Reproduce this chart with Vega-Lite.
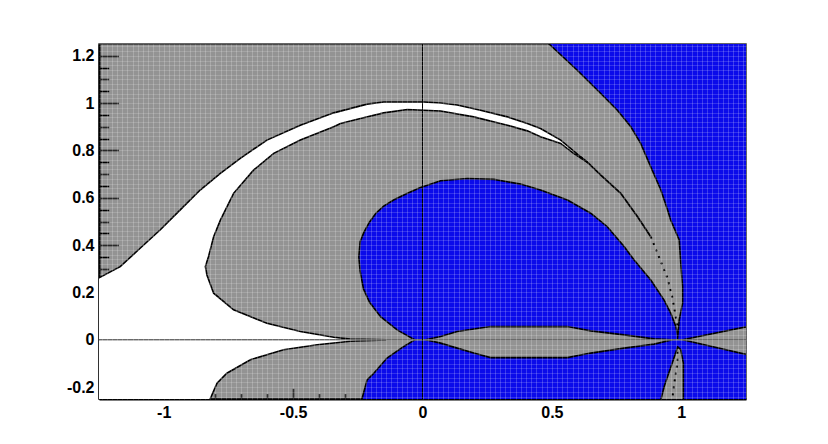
{
  "$schema": "https://vega.github.io/schema/vega-lite/v6.json",
  "width": 647,
  "height": 355,
  "autosize": {"type": "none"},
  "padding": {"left": 99, "top": 44, "right": 82, "bottom": 45},
  "background": "white",
  "config": {
    "view": {"fill": "#939393", "stroke": "#333333", "strokeWidth": 1.5},
    "axis": {
      "grid": false,
      "domainColor": "#000000",
      "domainWidth": 2,
      "tickColor": "#000000",
      "tickWidth": 1.5,
      "zindex": 2,
      "labelFont": "Liberation Sans",
      "labelFontSize": 16,
      "labelFontWeight": "bold",
      "labelColor": "#000000",
      "labelOverlap": false,
      "labelFlush": false,
      "labelBound": false
    }
  },
  "resolve": {"axis": {"x": "independent", "y": "independent"}},
  "datasets": {
    "poly": [
      {"shape": "blue", "i": 0, "x": 0.44, "y": 1.3},
      {"shape": "blue", "i": 1, "x": 1.3, "y": 1.3},
      {"shape": "blue", "i": 2, "x": 1.3, "y": -0.3},
      {"shape": "blue", "i": 3, "x": -0.245, "y": -0.3},
      {"shape": "blue", "i": 4, "x": -0.234, "y": -0.25},
      {"shape": "blue", "i": 5, "x": -0.214, "y": -0.169},
      {"shape": "blue", "i": 6, "x": -0.188, "y": -0.141},
      {"shape": "blue", "i": 7, "x": -0.137, "y": -0.077},
      {"shape": "blue", "i": 8, "x": -0.072, "y": -0.028},
      {"shape": "blue", "i": 9, "x": -0.03, "y": 0},
      {"shape": "blue", "i": 10, "x": -0.098, "y": 0.042},
      {"shape": "blue", "i": 11, "x": -0.162, "y": 0.098},
      {"shape": "blue", "i": 12, "x": -0.205, "y": 0.16},
      {"shape": "blue", "i": 13, "x": -0.228, "y": 0.215},
      {"shape": "blue", "i": 14, "x": -0.241, "y": 0.29},
      {"shape": "blue", "i": 15, "x": -0.246, "y": 0.35},
      {"shape": "blue", "i": 16, "x": -0.241, "y": 0.415},
      {"shape": "blue", "i": 17, "x": -0.226, "y": 0.455},
      {"shape": "blue", "i": 18, "x": -0.205, "y": 0.497},
      {"shape": "blue", "i": 19, "x": -0.18, "y": 0.535},
      {"shape": "blue", "i": 20, "x": -0.15, "y": 0.565},
      {"shape": "blue", "i": 21, "x": -0.11, "y": 0.592},
      {"shape": "blue", "i": 22, "x": -0.06, "y": 0.618},
      {"shape": "blue", "i": 23, "x": -0.01, "y": 0.643},
      {"shape": "blue", "i": 24, "x": 0.07, "y": 0.672},
      {"shape": "blue", "i": 25, "x": 0.173, "y": 0.682},
      {"shape": "blue", "i": 26, "x": 0.276, "y": 0.678},
      {"shape": "blue", "i": 27, "x": 0.379, "y": 0.658},
      {"shape": "blue", "i": 28, "x": 0.456, "y": 0.633},
      {"shape": "blue", "i": 29, "x": 0.56, "y": 0.591},
      {"shape": "blue", "i": 30, "x": 0.65, "y": 0.535},
      {"shape": "blue", "i": 31, "x": 0.714, "y": 0.478},
      {"shape": "blue", "i": 32, "x": 0.779, "y": 0.394},
      {"shape": "blue", "i": 33, "x": 0.817, "y": 0.338},
      {"shape": "blue", "i": 34, "x": 0.882, "y": 0.253},
      {"shape": "blue", "i": 35, "x": 0.933, "y": 0.169},
      {"shape": "blue", "i": 36, "x": 0.959, "y": 0.113},
      {"shape": "blue", "i": 37, "x": 0.979, "y": 0.056},
      {"shape": "blue", "i": 38, "x": 0.986, "y": 0.017},
      {"shape": "blue", "i": 39, "x": 0.985, "y": 0},
      {"shape": "blue", "i": 40, "x": 0.988, "y": 0.035},
      {"shape": "blue", "i": 41, "x": 0.992, "y": 0.084},
      {"shape": "blue", "i": 42, "x": 1.005, "y": 0.155},
      {"shape": "blue", "i": 43, "x": 1.005, "y": 0.225},
      {"shape": "blue", "i": 44, "x": 0.998, "y": 0.324},
      {"shape": "blue", "i": 45, "x": 0.992, "y": 0.422},
      {"shape": "blue", "i": 46, "x": 0.959, "y": 0.506},
      {"shape": "blue", "i": 47, "x": 0.947, "y": 0.549},
      {"shape": "blue", "i": 48, "x": 0.921, "y": 0.633},
      {"shape": "blue", "i": 49, "x": 0.882, "y": 0.731},
      {"shape": "blue", "i": 50, "x": 0.843, "y": 0.83},
      {"shape": "blue", "i": 51, "x": 0.805, "y": 0.9},
      {"shape": "blue", "i": 52, "x": 0.753, "y": 0.97},
      {"shape": "blue", "i": 53, "x": 0.689, "y": 1.041},
      {"shape": "blue", "i": 54, "x": 0.598, "y": 1.139},
      {"shape": "blue", "i": 55, "x": 0.489, "y": 1.25},

      {"shape": "lens", "i": 0, "x": 0.012, "y": 0},
      {"shape": "lens", "i": 1, "x": 0.07, "y": 0.014},
      {"shape": "lens", "i": 2, "x": 0.134, "y": 0.035},
      {"shape": "lens", "i": 3, "x": 0.198, "y": 0.046},
      {"shape": "lens", "i": 4, "x": 0.263, "y": 0.056},
      {"shape": "lens", "i": 5, "x": 0.56, "y": 0.056},
      {"shape": "lens", "i": 6, "x": 0.65, "y": 0.038},
      {"shape": "lens", "i": 7, "x": 0.779, "y": 0.021},
      {"shape": "lens", "i": 8, "x": 0.895, "y": 0.004},
      {"shape": "lens", "i": 9, "x": 0.966, "y": 0},
      {"shape": "lens", "i": 10, "x": 0.895, "y": -0.018},
      {"shape": "lens", "i": 11, "x": 0.779, "y": -0.035},
      {"shape": "lens", "i": 12, "x": 0.65, "y": -0.056},
      {"shape": "lens", "i": 13, "x": 0.56, "y": -0.075},
      {"shape": "lens", "i": 14, "x": 0.263, "y": -0.075},
      {"shape": "lens", "i": 15, "x": 0.198, "y": -0.056},
      {"shape": "lens", "i": 16, "x": 0.134, "y": -0.035},
      {"shape": "lens", "i": 17, "x": 0.07, "y": -0.014},

      {"shape": "wedge", "i": 0, "x": 1.005, "y": 0},
      {"shape": "wedge", "i": 1, "x": 1.3, "y": 0.066},
      {"shape": "wedge", "i": 2, "x": 1.3, "y": -0.074},

      {"shape": "strip", "i": 0, "x": 0.986, "y": -0.03},
      {"shape": "strip", "i": 1, "x": 0.998, "y": -0.042},
      {"shape": "strip", "i": 2, "x": 1.008, "y": -0.098},
      {"shape": "strip", "i": 3, "x": 1.008, "y": -0.3},
      {"shape": "strip", "i": 4, "x": 0.91, "y": -0.3},
      {"shape": "strip", "i": 5, "x": 0.921, "y": -0.253},
      {"shape": "strip", "i": 6, "x": 0.934, "y": -0.197},
      {"shape": "strip", "i": 7, "x": 0.947, "y": -0.155},
      {"shape": "strip", "i": 8, "x": 0.966, "y": -0.095},
      {"shape": "strip", "i": 9, "x": 0.979, "y": -0.052},

      {"shape": "white", "i": 0, "x": -1.3, "y": 0.23},
      {"shape": "white", "i": 1, "x": -1.25, "y": 0.262},
      {"shape": "white", "i": 2, "x": -1.168, "y": 0.309},
      {"shape": "white", "i": 3, "x": -1.091, "y": 0.387},
      {"shape": "white", "i": 4, "x": -1.014, "y": 0.464},
      {"shape": "white", "i": 5, "x": -0.936, "y": 0.549},
      {"shape": "white", "i": 6, "x": -0.859, "y": 0.633},
      {"shape": "white", "i": 7, "x": -0.781, "y": 0.703},
      {"shape": "white", "i": 8, "x": -0.704, "y": 0.767},
      {"shape": "white", "i": 9, "x": -0.601, "y": 0.844},
      {"shape": "white", "i": 10, "x": -0.472, "y": 0.907},
      {"shape": "white", "i": 11, "x": -0.343, "y": 0.959},
      {"shape": "white", "i": 12, "x": -0.214, "y": 0.996},
      {"shape": "white", "i": 13, "x": -0.15, "y": 1.005},
      {"shape": "white", "i": 14, "x": 0.005, "y": 1.005},
      {"shape": "white", "i": 15, "x": 0.07, "y": 1.001},
      {"shape": "white", "i": 16, "x": 0.134, "y": 0.992},
      {"shape": "white", "i": 17, "x": 0.224, "y": 0.97},
      {"shape": "white", "i": 18, "x": 0.328, "y": 0.942},
      {"shape": "white", "i": 19, "x": 0.405, "y": 0.914},
      {"shape": "white", "i": 20, "x": 0.456, "y": 0.893},
      {"shape": "white", "i": 21, "x": 0.534, "y": 0.844},
      {"shape": "white", "i": 22, "x": 0.611, "y": 0.773},
      {"shape": "white", "i": 23, "x": 0.64, "y": 0.748},
      {"shape": "white", "i": 24, "x": 0.585, "y": 0.787},
      {"shape": "white", "i": 25, "x": 0.534, "y": 0.83},
      {"shape": "white", "i": 26, "x": 0.456, "y": 0.858},
      {"shape": "white", "i": 27, "x": 0.405, "y": 0.883},
      {"shape": "white", "i": 28, "x": 0.328, "y": 0.907},
      {"shape": "white", "i": 29, "x": 0.198, "y": 0.942},
      {"shape": "white", "i": 30, "x": 0.07, "y": 0.967},
      {"shape": "white", "i": 31, "x": -0.059, "y": 0.973},
      {"shape": "white", "i": 32, "x": -0.15, "y": 0.959},
      {"shape": "white", "i": 33, "x": -0.24, "y": 0.935},
      {"shape": "white", "i": 34, "x": -0.317, "y": 0.914},
      {"shape": "white", "i": 35, "x": -0.343, "y": 0.9},
      {"shape": "white", "i": 36, "x": -0.472, "y": 0.844},
      {"shape": "white", "i": 37, "x": -0.575, "y": 0.788},
      {"shape": "white", "i": 38, "x": -0.653, "y": 0.717},
      {"shape": "white", "i": 39, "x": -0.73, "y": 0.619},
      {"shape": "white", "i": 40, "x": -0.781, "y": 0.506},
      {"shape": "white", "i": 41, "x": -0.807, "y": 0.436},
      {"shape": "white", "i": 42, "x": -0.827, "y": 0.351},
      {"shape": "white", "i": 43, "x": -0.839, "y": 0.31},
      {"shape": "white", "i": 44, "x": -0.833, "y": 0.274},
      {"shape": "white", "i": 45, "x": -0.807, "y": 0.197},
      {"shape": "white", "i": 46, "x": -0.73, "y": 0.127},
      {"shape": "white", "i": 47, "x": -0.601, "y": 0.07},
      {"shape": "white", "i": 48, "x": -0.472, "y": 0.035},
      {"shape": "white", "i": 49, "x": -0.343, "y": 0.011},
      {"shape": "white", "i": 50, "x": -0.279, "y": 0.003},
      {"shape": "white", "i": 51, "x": -0.14, "y": 0},
      {"shape": "white", "i": 52, "x": -0.279, "y": -0.006},
      {"shape": "white", "i": 53, "x": -0.407, "y": -0.021},
      {"shape": "white", "i": 54, "x": -0.537, "y": -0.042},
      {"shape": "white", "i": 55, "x": -0.665, "y": -0.084},
      {"shape": "white", "i": 56, "x": -0.756, "y": -0.141},
      {"shape": "white", "i": 57, "x": -0.794, "y": -0.183},
      {"shape": "white", "i": 58, "x": -0.82, "y": -0.249},
      {"shape": "white", "i": 59, "x": -0.824, "y": -0.3},
      {"shape": "white", "i": 60, "x": -1.3, "y": -0.3}
    ],
    "curves": [
      {"line": "merge", "i": 0, "x": 0.611, "y": 0.773},
      {"line": "merge", "i": 1, "x": 0.64, "y": 0.748},
      {"line": "merge", "i": 2, "x": 0.689, "y": 0.696},
      {"line": "merge", "i": 3, "x": 0.766, "y": 0.619},
      {"line": "merge", "i": 4, "x": 0.831, "y": 0.52},
      {"line": "merge", "i": 5, "x": 0.882, "y": 0.436},
      {"line": "dots", "i": 0, "x": 0.882, "y": 0.436},
      {"line": "dots", "i": 1, "x": 0.921, "y": 0.33},
      {"line": "dots", "i": 2, "x": 0.947, "y": 0.26},
      {"line": "dots", "i": 3, "x": 0.966, "y": 0.176},
      {"line": "dots", "i": 4, "x": 0.983, "y": 0.07},
      {"line": "dots", "i": 5, "x": 0.985, "y": 0.035},
      {"line": "dots2", "i": 0, "x": 0.985, "y": -0.05},
      {"line": "dots2", "i": 1, "x": 0.985, "y": -0.098},
      {"line": "dots2", "i": 2, "x": 0.972, "y": -0.19},
      {"line": "dots2", "i": 3, "x": 0.965, "y": -0.25}
    ],
    "zeroX": [{"x": 0}],
    "zeroY": [{"y": 0}]
  },
  "layer": [
    {
      "data": {"name": "poly"},
      "transform": [{"filter": "datum.shape == 'blue'"}],
      "mark": {"type": "line", "interpolate": "linear-closed", "fill": "#0b0bea", "stroke": "#000000", "strokeWidth": 1.6, "clip": true},
      "encoding": {
        "x": {
          "field": "x", "type": "quantitative", "title": null,
          "scale": {"domain": [-1.25, 1.25], "nice": false, "zero": false},
          "axis": {
            "orient": "bottom",
            "values": [-1, -0.5, 0, 0.5, 1],
            "labelExpr": "toString(datum.value)",
            "labelOverlap": false,
            "tickSize": -10.7,
            "labelPadding": 15.7,
            "domain": true
          }
        },
        "y": {
          "field": "y", "type": "quantitative", "title": null,
          "scale": {"domain": [-0.25, 1.25], "nice": false, "zero": false},
          "axis": {
            "orient": "left",
            "values": [-0.2, 0, 0.2, 0.4, 0.6, 0.8, 1, 1.2],
            "labelExpr": "toString(datum.value)",
            "labelOverlap": false,
            "tickSize": -19.4,
            "labelPadding": 24.4,
            "domain": true
          }
        },
        "order": {"field": "i", "type": "quantitative"}
      }
    },
    {
      "data": {"name": "poly"},
      "transform": [{"filter": "datum.shape == 'lens' || datum.shape == 'wedge' || datum.shape == 'strip'"}],
      "mark": {"type": "line", "interpolate": "linear-closed", "fill": "#939393", "stroke": "#000000", "strokeWidth": 1.6, "clip": true},
      "encoding": {
        "x": {
          "field": "x", "type": "quantitative", "title": null,
          "axis": {
            "orient": "bottom",
            "values": [-1.2, -1.1, -0.9, -0.8, -0.7, -0.6, -0.4, -0.3, -0.2, -0.1, 0.1, 0.2, 0.3, 0.4, 0.6, 0.7, 0.8, 0.9, 1.1, 1.2],
            "labels": false,
            "domain": false,
            "tickSize": -5.4
          }
        },
        "y": {
          "field": "y", "type": "quantitative", "title": null,
          "axis": {
            "orient": "left",
            "values": [-0.15, -0.1, -0.05, 0.05, 0.1, 0.15, 0.25, 0.3, 0.35, 0.45, 0.5, 0.55, 0.65, 0.7, 0.75, 0.85, 0.9, 0.95, 1.05, 1.1, 1.15],
            "labels": false,
            "domain": false,
            "tickSize": -9.7
          }
        },
        "detail": {"field": "shape"},
        "order": {"field": "i", "type": "quantitative"}
      }
    },
    {
      "data": {"name": "poly"},
      "transform": [{"filter": "datum.shape == 'white'"}],
      "mark": {"type": "line", "interpolate": "linear-closed", "fill": "#ffffff", "stroke": "#000000", "strokeWidth": 1.6, "clip": true},
      "encoding": {
        "x": {
          "field": "x", "type": "quantitative", "title": null,
          "axis": {
            "orient": "bottom",
            "tickCount": 125,
            "grid": true,
            "gridColor": "#ffffff",
            "gridOpacity": 0.2,
            "gridWidth": 1,
            "ticks": false,
            "labels": false,
            "domain": false,
            "zindex": 1
          }
        },
        "y": {
          "field": "y", "type": "quantitative", "title": null,
          "axis": {
            "orient": "left",
            "tickCount": 75,
            "grid": true,
            "gridColor": "#ffffff",
            "gridOpacity": 0.16,
            "gridWidth": 1,
            "ticks": false,
            "labels": false,
            "domain": false,
            "zindex": 1
          }
        },
        "order": {"field": "i", "type": "quantitative"}
      }
    },
    {
      "data": {"name": "zeroY"},
      "mark": {"type": "rule", "color": "#6a6a6a", "strokeWidth": 1.5},
      "encoding": {"y": {"field": "y", "type": "quantitative", "title": null, "axis": null}}
    },
    {
      "data": {"name": "curves"},
      "transform": [{"filter": "datum.line == 'merge'"}],
      "mark": {"type": "line", "color": "#000000", "strokeWidth": 1.8, "clip": true},
      "encoding": {
        "x": {"field": "x", "type": "quantitative", "title": null, "axis": null},
        "y": {"field": "y", "type": "quantitative", "title": null, "axis": null},
        "order": {"field": "i", "type": "quantitative"}
      }
    },
    {
      "data": {"name": "curves"},
      "transform": [{"filter": "datum.line == 'dots' || datum.line == 'dots2'"}],
      "mark": {"type": "line", "color": "#000000", "strokeWidth": 2, "strokeDash": [2, 5], "clip": true},
      "encoding": {
        "x": {"field": "x", "type": "quantitative", "title": null, "axis": null},
        "y": {"field": "y", "type": "quantitative", "title": null, "axis": null},
        "detail": {"field": "line"},
        "order": {"field": "i", "type": "quantitative"}
      }
    },
    {
      "data": {"name": "zeroX"},
      "mark": {"type": "rule", "color": "#000000", "strokeWidth": 1},
      "encoding": {"x": {"field": "x", "type": "quantitative", "title": null, "axis": null}}
    }
  ]
}
